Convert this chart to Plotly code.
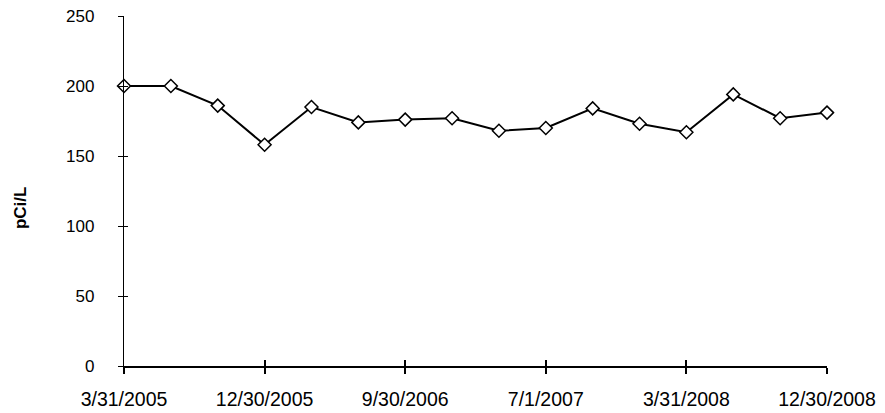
import plotly.graph_objects as go

dates = ["3/31/2005", "6/30/2005", "9/30/2005", "12/30/2005",
         "3/31/2006", "6/30/2006", "9/30/2006", "12/31/2006",
         "3/31/2007", "7/1/2007", "9/30/2007", "12/31/2007",
         "3/31/2008", "6/30/2008", "9/30/2008", "12/30/2008"]
values = [200, 200, 186, 158, 185, 174, 176, 177, 168, 170, 184, 173, 167, 194, 177, 181]
tick_labels = ["3/31/2005", "12/30/2005", "9/30/2006", "7/1/2007", "3/31/2008", "12/30/2008"]
y_ticks = [0, 50, 100, 150, 200, 250]

FONT = "Liberation Sans, Arial, sans-serif"

fig = go.Figure()
fig.add_trace(go.Scatter(
    x=dates, y=values, mode="lines+markers",
    line=dict(color="black", width=2),
    marker=dict(symbol="diamond", size=10, color="white",
                line=dict(color="black", width=1.5)),
    cliponaxis=False, showlegend=False))
# invisible trace carrying the overlay axes (inner half of the crossing ticks)
fig.add_trace(go.Scatter(
    x=dates, y=values, mode="lines", line=dict(width=0), opacity=0,
    xaxis="x2", yaxis="y2", showlegend=False, hoverinfo="skip"))

fig.update_layout(
    width=877, height=405,
    margin=dict(l=116, r=58, t=8, b=47),
    paper_bgcolor="white", plot_bgcolor="white",
    font=dict(family=FONT, color="black"),
    xaxis=dict(type="category", categoryorder="array", categoryarray=dates,
               range=[0, len(dates) - 1], automargin=False,
               tickmode="array", tickvals=tick_labels, ticktext=tick_labels,
               ticks="outside", ticklen=6, tickwidth=2, tickcolor="black",
               showline=True, linecolor="black", linewidth=2,
               showgrid=False, zeroline=False, ticklabeloverflow="allow",
               tickfont=dict(size=19.5, family=FONT), ticklabelstandoff=9),
    yaxis=dict(range=[0, 250], tickmode="array", tickvals=y_ticks, automargin=False,
               ticks="outside", ticklen=5, tickwidth=1, tickcolor="black",
               showline=True, linecolor="black", linewidth=1.3,
               showgrid=False, zeroline=False, ticklabeloverflow="allow",
               tickfont=dict(size=17, family=FONT), ticklabelstandoff=20),
    xaxis2=dict(type="category", categoryorder="array", categoryarray=dates,
                overlaying="x", anchor="y2", side="bottom", automargin=False,
                range=[0, len(dates) - 1],
                tickmode="array", tickvals=tick_labels,
                ticks="inside", ticklen=6, tickwidth=2, tickcolor="black",
                showticklabels=False, showline=False, showgrid=False, zeroline=False),
    yaxis2=dict(range=[0, 250], overlaying="y", anchor="x2", side="left", automargin=False,
                tickmode="array", tickvals=y_ticks,
                ticks="inside", ticklen=4, tickwidth=1, tickcolor="black",
                showticklabels=False, showline=False, showgrid=False, zeroline=False),
    annotations=[dict(text="<b>pCi/L</b>", textangle=-90,
                      xref="paper", yref="paper", x=-0.148, y=0.454,
                      xanchor="center", yanchor="middle", showarrow=False,
                      font=dict(size=17, family=FONT, color="black"))],
)

fig.write_html("out.html")
